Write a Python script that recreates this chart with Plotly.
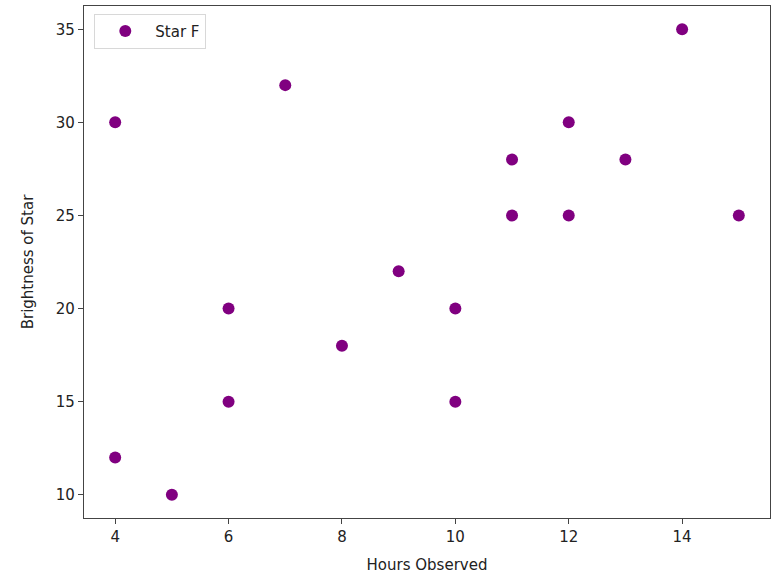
import plotly.graph_objects as go

hours = [4, 4, 5, 6, 6, 7, 8, 9, 10, 10, 11, 11, 12, 12, 13, 14, 15]
brightness = [30, 12, 10, 20, 15, 32, 18, 22, 20, 15, 28, 25, 30, 25, 28, 35, 25]
series_name = "Star F"

fig = go.Figure()
fig.add_trace(go.Scatter(
    x=hours, y=brightness, mode="markers", name=series_name,
    marker=dict(color="purple", size=12, line=dict(width=0)),
    showlegend=True,
))

axis_common = dict(
    showgrid=False, zeroline=False, showline=True, linecolor="#444", linewidth=1.2,
    mirror=True, ticks="outside", ticklen=5, tickcolor="#444",
    tickfont=dict(family="DejaVu Sans", size=15, color="#222"),
)
fig.update_xaxes(range=[3.45, 15.55], tickvals=[4, 6, 8, 10, 12, 14],
                 title=dict(text="Hours Observed", font=dict(family="DejaVu Sans", size=15, color="#222"), standoff=14),
                 **axis_common)
fig.update_yaxes(range=[8.75, 36.25], tickvals=[10, 15, 20, 25, 30, 35],
                 title=dict(text="Brightness of Star", font=dict(family="DejaVu Sans", size=15, color="#222"), standoff=18),
                 **axis_common)

fig.update_layout(
    width=771, height=578,
    margin=dict(l=84, r=1, t=6, b=60),
    plot_bgcolor="white", paper_bgcolor="white",
    legend=dict(x=0.015, y=0.985, xanchor="left", yanchor="top", itemwidth=50,
                bgcolor="rgba(255,255,255,0.8)", bordercolor="#d8d8d8", borderwidth=1,
                font=dict(family="DejaVu Sans", size=15, color="#222")),
)

fig.write_html("out.html", config={"displayModeBar": False},
               post_script="document.body.style.margin='0px';document.body.style.padding='0px';")
